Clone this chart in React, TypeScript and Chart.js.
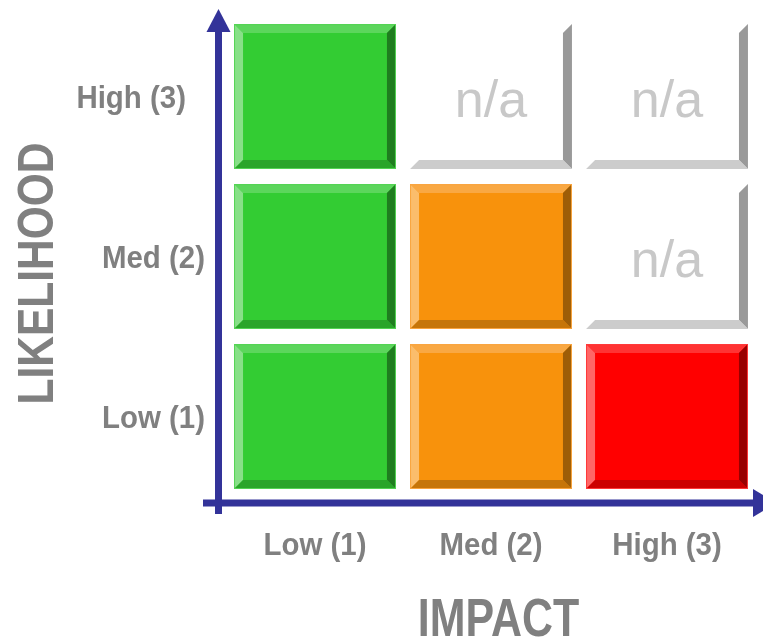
import React, { useEffect, useRef } from "react";
import { Chart, registerables } from "chart.js";

Chart.register(...registerables);

// Axis categories
const impactLabels = ["Low (1)", "Med (2)", "High (3)"];
const likelihoodLabels = ["Low (1)", "Med (2)", "High (3)"];
const impactValues = [1, 2, 3];
const likelihoodValues = [1, 2, 3];

// Risk rating of every cell, one list per likelihood row (impact Low → High)
const lowLikelihoodRatings = ["low", "medium", "high"];
const medLikelihoodRatings = ["low", "medium", "n/a"];
const highLikelihoodRatings = ["low", "n/a", "n/a"];

const ratingRows = [lowLikelihoodRatings, medLikelihoodRatings, highLikelihoodRatings];

type Bevel = { face: string; top: string; left: string; right: string; bottom: string; edge: string };

const palette: Record<string, Bevel> = {
  low: { face: "#33cc33", top: "#5cd65c", left: "#88e088", right: "#1f7d1f", bottom: "#2aa52a", edge: "#55d455" },
  medium: { face: "#f8920c", top: "#f9a843", left: "#fbbd6c", right: "#9e5d07", bottom: "#c67509", edge: "#f9a540" },
  high: { face: "#ff0000", top: "#ff3333", left: "#ff6666", right: "#990000", bottom: "#cc0000", edge: "#ff3a3a" },
};

const AXIS_COLOR = "#333399";
const LABEL_COLOR = "#808080";
const NA_COLOR = "#c8c8c8";
const FONT = "'Liberation Sans', Arial, sans-serif";

function condensedText(
  ctx: CanvasRenderingContext2D,
  text: string,
  x: number,
  y: number,
  size: number,
  squeeze: number,
  align: CanvasTextAlign,
  color: string,
  weight = "bold",
  rotate = 0
) {
  ctx.save();
  ctx.translate(x, y);
  if (rotate) ctx.rotate(rotate);
  ctx.scale(squeeze, 1);
  ctx.font = `${weight} ${size}px ${FONT}`;
  ctx.fillStyle = color;
  ctx.textAlign = align;
  ctx.textBaseline = "alphabetic";
  ctx.fillText(text, 0, 0);
  ctx.restore();
}

function poly(ctx: CanvasRenderingContext2D, pts: number[][], color: string) {
  ctx.beginPath();
  ctx.moveTo(pts[0][0], pts[0][1]);
  for (let i = 1; i < pts.length; i++) ctx.lineTo(pts[i][0], pts[i][1]);
  ctx.closePath();
  ctx.fillStyle = color;
  ctx.fill();
}

const CELL_FILL_X = 0.92;
const CELL_FILL_Y = 0.906;
const BEVEL = 9;

const matrixPlugin = {
  id: "riskMatrix",
  afterDatasetsDraw(chart: any) {
    const { ctx, chartArea, scales } = chart;
    const xs = scales.x;
    const ys = scales.y;
    const unitX = Math.abs(xs.getPixelForValue(2) - xs.getPixelForValue(1));
    const unitY = Math.abs(ys.getPixelForValue(2) - ys.getPixelForValue(1));
    const hw = (unitX * CELL_FILL_X) / 2;
    const hh = (unitY * CELL_FILL_Y) / 2;
    const meta = chart.getDatasetMeta(0);
    const raw = chart.data.datasets[0].data as any[];

    meta.data.forEach((pt: any, i: number) => {
      const rating = raw[i].rating as string;
      const x0 = pt.x - hw;
      const x1 = pt.x + hw;
      const y0 = pt.y - hh;
      const y1 = pt.y + hh;
      const b = BEVEL;
      if (rating === "n/a") {
        poly(ctx, [[x1, y0], [x1, y1], [x1 - b, y1 - b], [x1 - b, y0 + b]], "#999999");
        poly(ctx, [[x0, y1], [x1, y1], [x1 - b, y1 - b], [x0 + b, y1 - b]], "#cccccc");
        ctx.save();
        ctx.font = `52px ${FONT}`;
        ctx.fillStyle = NA_COLOR;
        ctx.textAlign = "center";
        ctx.textBaseline = "alphabetic";
        ctx.fillText("n/a", pt.x, pt.y + 20.5);
        ctx.restore();
        return;
      }
      const c = palette[rating];
      ctx.fillStyle = c.face;
      ctx.fillRect(x0, y0, x1 - x0, y1 - y0);
      poly(ctx, [[x0, y0], [x1, y0], [x1 - b, y0 + b], [x0 + b, y0 + b]], c.top);
      poly(ctx, [[x0, y0], [x0 + b, y0 + b], [x0 + b, y1 - b], [x0, y1]], c.left);
      poly(ctx, [[x1, y0], [x1, y1], [x1 - b, y1 - b], [x1 - b, y0 + b]], c.right);
      poly(ctx, [[x0, y1], [x1, y1], [x1 - b, y1 - b], [x0 + b, y1 - b]], c.bottom);
      ctx.strokeStyle = c.edge;
      ctx.lineWidth = 1;
      ctx.strokeRect(x0 + 0.5, y0 + 0.5, x1 - x0 - 1, y1 - y0 - 1);
    });

    // Axes with arrow heads
    const axisX = chartArea.left - 8.5;
    const axisY = chartArea.bottom + 6.5;
    ctx.save();
    ctx.fillStyle = AXIS_COLOR;
    ctx.fillRect(axisX - 3.5, chartArea.top + 14, 7, axisY + 11 - (chartArea.top + 14));
    poly(ctx, [[axisX, chartArea.top - 7.5], [axisX + 12, chartArea.top + 15.5], [axisX - 12, chartArea.top + 15.5]], AXIS_COLOR);
    ctx.fillRect(axisX - 15.5, axisY - 3.5, chartArea.right - 2 - (axisX - 15.5), 7);
    poly(ctx, [[chartArea.right + 21, axisY], [chartArea.right - 2, axisY - 14], [chartArea.right - 2, axisY + 14]], AXIS_COLOR);
    ctx.restore();

    // Likelihood tick labels
    likelihoodValues.forEach((v, i) => {
      const y = ys.getPixelForValue(v);
      const right = axisX - 13.5 - (v === 3 ? 19 : 0);
      condensedText(ctx, likelihoodLabels[i], right, y + 11.5, 32, 0.92, "right", LABEL_COLOR);
    });

    // Impact tick labels
    impactValues.forEach((v, i) => {
      const x = xs.getPixelForValue(v);
      condensedText(ctx, impactLabels[i], x, chartArea.bottom + 58.5, 32, 0.92, "center", LABEL_COLOR);
    });

    // Axis titles
    const midX = (chartArea.left + chartArea.right) / 2;
    const midY = (chartArea.top + chartArea.bottom) / 2;
    condensedText(ctx, "IMPACT", midX + 7.5, chartArea.bottom + 139.5, 53, 0.81, "center", LABEL_COLOR);
    condensedText(ctx, "LIKELIHOOD", 53, midY + 17, 50, 0.85, "center", LABEL_COLOR, "bold", -Math.PI / 2);
  },
};

export default function App() {
  const canvasRef = useRef<HTMLCanvasElement | null>(null);

  useEffect(() => {
    const canvas = canvasRef.current;
    if (!canvas) return;

    const points: { x: number; y: number; rating: string }[] = [];
    likelihoodValues.forEach((ly, r) => {
      impactValues.forEach((ix, c) => {
        points.push({ x: ix, y: ly, rating: ratingRows[r][c] });
      });
    });

    const chart = new Chart(canvas, {
      type: "scatter",
      data: {
        datasets: [
          {
            label: "Risk",
            data: points as any,
            pointRadius: 0,
            pointHoverRadius: 0,
          },
        ],
      },
      options: {
        animation: false,
        responsive: false,
        events: [],
        layout: { padding: { left: 227, right: 8, top: 16.5, bottom: 142.5 } },
        plugins: { legend: { display: false }, tooltip: { enabled: false } },
        scales: {
          x: { type: "linear", min: 0.5, max: 3.5, display: false },
          y: { type: "linear", min: 0.5, max: 3.5, display: false },
        },
      },
      plugins: [matrixPlugin],
    });

    return () => chart.destroy();
  }, []);

  return (
    <div style={{ position: "fixed", left: 0, top: 0, width: 763, height: 639, background: "#ffffff" }}>
      <canvas ref={canvasRef} width={763} height={639} style={{ display: "block" }} />
    </div>
  );
}
